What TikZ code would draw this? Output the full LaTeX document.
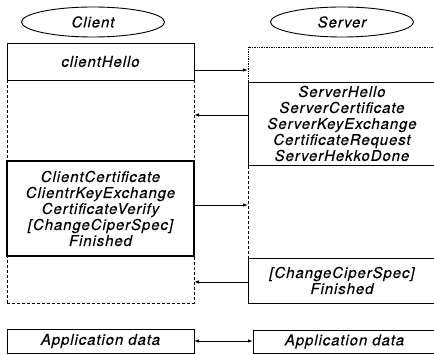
\documentclass[tikz,border=0pt]{standalone}
\usepackage{fontspec}
\setmainfont[LetterSpace=6,FakeBold=0.3]{TeX Gyre Heros}
\usetikzlibrary{arrows.meta,shapes.geometric}
\begin{document}
\begin{tikzpicture}[x=1pt,y=-1pt,
  font=\fontsize{15}{16}\selectfont\itshape,
  every node/.style={inner sep=0pt, outer sep=0pt, align=center},
  wait/.style={draw, densely dashed, line width=0.7pt, anchor=north west},
  msg/.style={draw, line width=0.9pt, anchor=north west},
  msgb/.style={draw, line width=1.2pt, anchor=north west},
  role/.style={draw, ellipse, line width=0.9pt, minimum width=143pt, minimum height=30pt},
  arr/.style={line width=0.9pt, -{Latex[length=5pt,width=3.5pt]}},
  dbl/.style={line width=0.9pt, {Latex[length=5pt,width=3.5pt]}-{Latex[length=5pt,width=3.5pt]}}
]
\useasboundingbox (0,0) rectangle (434,355);
\clip (0,0) rectangle (434,355);

% roles
\node[role] (client) at (93,22) {Client};
\node[role] (server) at (342,22) {Server};

% client column
\node[wait, minimum width=187pt, minimum height=81pt] (cw1) at (7,80) {};
\node[wait, minimum width=187pt, minimum height=47pt] (cw2) at (7,256) {};
\node[msg, minimum width=187pt, minimum height=37pt] (ch) at (7,43) {clientHello};
\node[msgb, minimum width=187pt, minimum height=95pt] (cm) at (7,161)
  {ClientCertificate\\ClientrKeyExchange\\CertificateVerify\\{[}ChangeCiperSpec{]}\\Finished};

% server column
\node[draw, densely dotted, line width=0.7pt, anchor=north west, minimum width=188pt, minimum height=35pt] (sa) at (248,47) {};
\node[wait, minimum width=188pt, minimum height=93pt] (sc) at (248,165) {};
\node[msg, minimum width=188pt, minimum height=83pt] (sb) at (248,82)
  {ServerHello\\ServerCertificate\\ServerKeyExchange\\CertificateRequest\\ServerHekkoDone};
\node[msg, minimum width=188pt, minimum height=45pt] (sd) at (248,258)
  {{[}ChangeCiperSpec{]}\\Finished};

% application data
\node[msg, minimum width=187pt, minimum height=24pt] (ca) at (7,329) {Application data};
\node[msg, minimum width=183pt, minimum height=23pt] (sv) at (253,330) {Application data};

% messages
\draw[arr] ([yshift=-8.5pt]ch.east) -- ([yshift=-8.5pt]ch.east -| sa.west);
\draw[arr] ([yshift=8.5pt]sb.west) -- ([yshift=8.5pt]sb.west -| cw1.east);
\draw[arr] ([yshift=3.5pt]cm.east) -- ([yshift=3.5pt]cm.east -| sc.west);
\draw[arr] ([yshift=-1.5pt]sd.west) -- ([yshift=-1.5pt]sd.west -| cw2.east);
\draw[dbl] (ca.east) -- (ca.east -| sv.west);
\end{tikzpicture}
\end{document}
